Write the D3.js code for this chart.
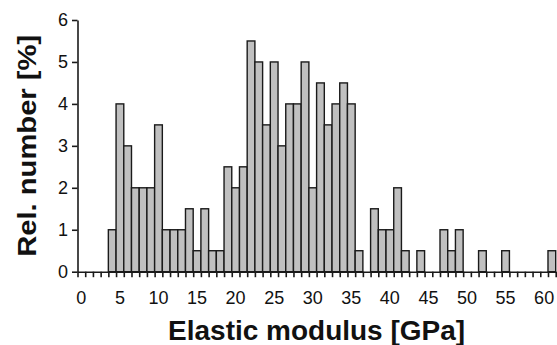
<!DOCTYPE html>
<html>
<head>
<meta charset="utf-8">
<script src="https://cdn.jsdelivr.net/npm/d3@7"></script>
<style>
  body { margin: 0; background: #fff; }
  svg { display: block; font-family: "Liberation Sans", Arial, sans-serif; }
</style>
</head>
<body>
<script>
// relative number [%] per 1 GPa bin, bins 0..61
const relNumber = [
  0, 0, 0, 0, 1, 4, 3, 2, 2, 2,
  3.5, 1, 1, 1, 1.5, 0.5, 1.5, 0.5, 0.5, 2.5,
  2, 2.5, 5.5, 5, 3.5, 5, 3, 4, 4, 5,
  2, 4.5, 3.5, 4, 4.5, 4, 0.5, 0, 1.5, 1,
  1, 2, 0.5, 0, 0.5, 0, 0, 1, 0.5, 1,
  0, 0, 0.5, 0, 0, 0.5, 0, 0, 0, 0,
  0, 0.5
];
const bins = relNumber.map((_, i) => i);
const xTickLabels = [0, 5, 10, 15, 20, 25, 30, 35, 40, 45, 50, 55, 60];
const yTicks = [0, 1, 2, 3, 4, 5, 6];

const width = 557, height = 345;
const margin = { top: 20, right: 1.3, bottom: 73.3, left: 77.5 };

const svg = d3.select("body").append("svg")
  .attr("width", width)
  .attr("height", height);

const x = d3.scaleBand()
  .domain(bins)
  .range([margin.left, width - margin.right])
  .padding(0);

const xEdges = d3.scaleLinear()
  .domain([0, bins.length])
  .range([margin.left, width - margin.right]);

const y = d3.scaleLinear()
  .domain([0, 6])
  .range([height - margin.bottom, margin.top]);

// bars
svg.append("g")
  .selectAll("rect")
  .data(bins.filter(b => relNumber[b] > 0))
  .join("rect")
  .attr("x", d => x(d))
  .attr("y", d => y(relNumber[d]))
  .attr("width", x.bandwidth())
  .attr("height", d => y(0) - y(relNumber[d]))
  .attr("fill", "#c0c0c0")
  .attr("stroke", "#1a1a1a")
  .attr("stroke-width", 1.4);

// x axis: ticks at every bin edge
const gx = svg.append("g")
  .attr("transform", `translate(0,${y(0)})`)
  .call(d3.axisBottom(xEdges)
    .tickValues(d3.range(0, bins.length + 1))
    .tickSize(5.5)
    .tickSizeOuter(0)
    .tickFormat(""));
gx.select(".domain").attr("stroke", "#1a1a1a").attr("stroke-width", 1.6);
gx.selectAll(".tick line").attr("stroke", "#1a1a1a").attr("stroke-width", 1.6);

// x labels at bin centres
const gxl = svg.append("g")
  .attr("transform", `translate(0,${y(0)})`)
  .call(d3.axisBottom(x)
    .tickValues(xTickLabels)
    .tickSize(0)
    .tickPadding(20));
gxl.select(".domain").remove();
gxl.selectAll("text")
  .attr("font-size", 18)
  .attr("fill", "#111")
  .attr("font-family", "'Liberation Sans', Arial, sans-serif");

// y axis
const gy = svg.append("g")
  .attr("transform", `translate(${margin.left},0)`)
  .call(d3.axisLeft(y)
    .tickValues(yTicks)
    .tickFormat(d3.format("d"))
    .tickSize(5.5)
    .tickSizeOuter(0)
    .tickPadding(4));
gy.select(".domain").attr("stroke", "#1a1a1a").attr("stroke-width", 1.6);
gy.selectAll(".tick line").attr("stroke", "#1a1a1a").attr("stroke-width", 1.6);
gy.selectAll("text")
  .attr("font-size", 18)
  .attr("fill", "#111")
  .attr("font-family", "'Liberation Sans', Arial, sans-serif");

// titles
svg.append("text")
  .attr("x", (margin.left + width - margin.right) / 2)
  .attr("y", 340)
  .attr("text-anchor", "middle")
  .attr("font-size", 27)
  .attr("font-weight", "bold")
  .attr("fill", "#111")
  .attr("textLength", 297)
  .attr("lengthAdjust", "spacingAndGlyphs")
  .text("Elastic modulus [GPa]");

svg.append("text")
  .attr("transform", `translate(35.5,${(y(0) + y(6)) / 2}) rotate(-90)`)
  .attr("text-anchor", "middle")
  .attr("font-size", 25)
  .attr("font-weight", "bold")
  .attr("fill", "#111")
  .attr("textLength", 222)
  .attr("lengthAdjust", "spacingAndGlyphs")
  .text("Rel. number [%]");
</script>
</body>
</html>
